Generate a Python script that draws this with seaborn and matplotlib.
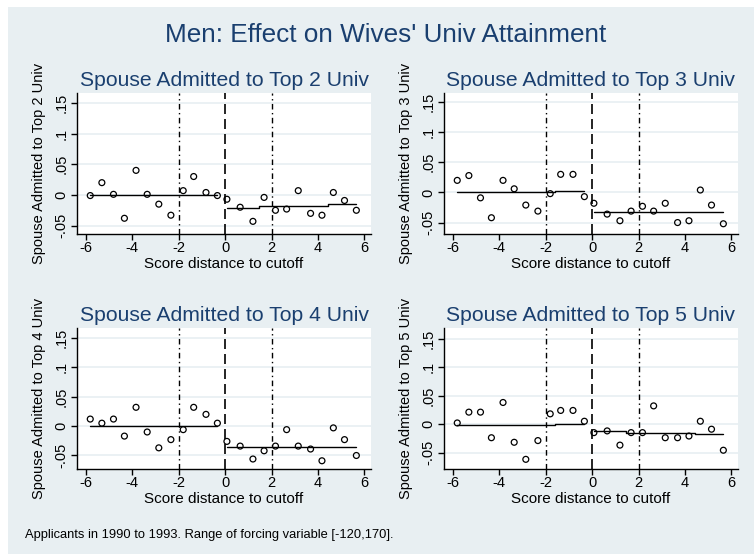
import numpy as np
import pandas as pd
import matplotlib
matplotlib.use("Agg")
import matplotlib.pyplot as plt
from matplotlib.patches import Rectangle
import seaborn as sns

# ---------------- data ----------------
x_left = [-5.8, -5.3, -4.8, -4.33, -3.83, -3.35, -2.85, -2.33, -1.8, -1.35, -0.82, -0.33]
x_right = [0.08, 0.65, 1.2, 1.68, 2.17, 2.65, 3.15, 3.68, 4.17, 4.66, 5.14, 5.65]

panel_titles = ["Spouse Admitted to Top 2 Univ", "Spouse Admitted to Top 3 Univ",
                "Spouse Admitted to Top 4 Univ", "Spouse Admitted to Top 5 Univ"]

top2_left = [-0.001, 0.020, 0.001, -0.038, 0.040, 0.001, -0.015, -0.033, 0.007, 0.030, 0.004, -0.001]
top2_right = [-0.007, -0.020, -0.043, -0.004, -0.025, -0.023, 0.007, -0.030, -0.033, 0.004, -0.009, -0.025]
top2_fit_left = [0.0, 0.0, 0.0, 0.0, 0.0, 0.0, 0.0, 0.0, 0.0, 0.0, 0.0, 0.0]
top2_fit_right = [-0.021, -0.021, -0.021, -0.018, -0.018, -0.018, -0.018, -0.018, -0.018, -0.015, -0.015, -0.015]

top3_left = [0.020, 0.028, -0.009, -0.042, 0.020, 0.006, -0.021, -0.031, -0.002, 0.030, 0.030, -0.007]
top3_right = [-0.018, -0.036, -0.047, -0.031, -0.023, -0.031, -0.018, -0.050, -0.047, 0.004, -0.021, -0.052]
top3_fit_left = [0.0, 0.0, 0.0, 0.0, 0.0, 0.0, 0.0, 0.0, 0.0, 0.003, 0.003, 0.003]
top3_fit_right = [-0.033, -0.033, -0.033, -0.033, -0.033, -0.033, -0.033, -0.033, -0.033, -0.033, -0.033, -0.033]

top4_left = [0.012, 0.005, 0.012, -0.017, 0.032, -0.010, -0.037, -0.023, -0.006, 0.032, 0.020, 0.005]
top4_right = [-0.026, -0.034, -0.056, -0.042, -0.034, -0.006, -0.034, -0.039, -0.059, -0.003, -0.023, -0.050]
top4_fit_left = [0.0, 0.0, 0.0, 0.0, 0.0, 0.0, 0.0, 0.0, 0.0, 0.0, 0.0, 0.0]
top4_fit_right = [-0.036, -0.036, -0.036, -0.036, -0.036, -0.036, -0.036, -0.036, -0.036, -0.036, -0.036, -0.036]

top5_left = [0.002, 0.021, 0.021, -0.024, 0.038, -0.032, -0.062, -0.029, 0.018, 0.024, 0.024, 0.005]
top5_right = [-0.015, -0.012, -0.037, -0.015, -0.015, 0.032, -0.024, -0.024, -0.021, 0.005, -0.009, -0.046]
top5_fit_left = [-0.002, -0.002, -0.002, -0.002, -0.002, -0.002, -0.002, -0.002, -0.002, 0.0005, 0.0005, 0.0005]
top5_fit_right = [-0.013, -0.013, -0.013, -0.015, -0.015, -0.015, -0.015, -0.015, -0.015, -0.018, -0.018, -0.018]

y_ticks = [-0.05, 0, 0.05, 0.1, 0.15]
y_tick_labels = ["-.05", "0", ".05", ".1", ".15"]
x_ticks = [-6, -4, -2, 0, 2, 4, 6]
x_tick_labels = ["-6", "-4", "-2", "0", "2", "4", "6"]

main_title = "Men: Effect on Wives' Univ Attainment"
x_label = "Score distance to cutoff"
footnote = "Applicants in 1990 to 1993. Range of forcing variable [-120,170]."

panels = [
    (top2_left, top2_right, top2_fit_left, top2_fit_right),
    (top3_left, top3_right, top3_fit_left, top3_fit_right),
    (top4_left, top4_right, top4_fit_left, top4_fit_right),
    (top5_left, top5_right, top5_fit_left, top5_fit_right),
]

# ---------------- style ----------------
sns.set_theme(style="white")
plt.rcParams['font.family'] = ['Liberation Sans', 'DejaVu Sans']

BG = "#e8eff2"
NAVY = "#1a3f6f"
W, H = 754, 554
fig = plt.figure(figsize=(W / 100, H / 100), dpi=100, facecolor="white")
fig.patches.append(Rectangle((8 / W, 0), 1 - 8 / W, 1 - 7 / H, transform=fig.transFigure,
                             facecolor=BG, edgecolor="none", zorder=-10))

ylims = [(-0.0636, 0.166), (-0.069, 0.165), (-0.073, 0.167), (-0.079, 0.169)]
pos_px = [(77, 93), (444, 93), (77, 328), (444, 328)]
ax_w, ax_h = 294, 141

for i, (yl, yr, fl, fr) in enumerate(panels):
    lx, ty = pos_px[i]
    ax = fig.add_axes([lx / W, 1 - (ty + ax_h) / H, ax_w / W, ax_h / H])
    ax.set_facecolor("white")
    ax.set_xlim(-6.37, 6.28)
    ax.set_ylim(*ylims[i])

    for t in y_ticks:
        ax.axhline(t, color=BG, lw=1.2, zorder=0)

    df_pts = pd.DataFrame({"x": x_left + x_right, "y": yl + yr})
    sns.scatterplot(data=df_pts, x="x", y="y", ax=ax, marker="o", s=18,
                    facecolor="none", edgecolor="black", linewidth=0.9, zorder=4)
    df_fl = pd.DataFrame({"x": x_left, "y": fl})
    df_fr = pd.DataFrame({"x": x_right, "y": fr})
    sns.lineplot(data=df_fl, x="x", y="y", ax=ax, color="black", lw=1.0,
                 drawstyle="steps-mid", zorder=3)
    sns.lineplot(data=df_fr, x="x", y="y", ax=ax, color="black", lw=1.0,
                 drawstyle="steps-mid", zorder=3)

    ax.axvline(0, color="black", lw=1.2, dashes=(6, 3), zorder=2)
    for xv in (-2, 2):
        ax.axvline(xv, color="black", lw=1.0, dashes=(4, 2.5, 1, 2.5), zorder=2)

    sns.despine(ax=ax)
    for s in ("left", "bottom"):
        ax.spines[s].set_color("black")
        ax.spines[s].set_linewidth(1.0)

    ax.set_xticks(x_ticks)
    ax.set_xticklabels(x_tick_labels)
    ax.set_yticks(y_ticks)
    ax.set_yticklabels(y_tick_labels, rotation=90, va="center")
    ax.tick_params(axis="both", direction="out", length=4, width=1, color="black",
                   labelsize=10.5, labelcolor="black", left=True, bottom=True)
    ax.tick_params(axis="x", pad=1)
    ax.tick_params(axis="y", pad=2)

    ax.set_xlabel(x_label, fontsize=11, color="black", va="top")
    ax.xaxis.set_label_coords(0.5, -0.165)
    ax.set_ylabel(panel_titles[i], fontsize=10.5, color="black", va="center")
    ax.yaxis.set_label_coords(-0.128, 0.5)
    ax.set_title(panel_titles[i], fontsize=15.2, color=NAVY, pad=5)

fig.text(386 / W, 1 - 35 / H, main_title, ha="center", va="center", fontsize=18.8, color=NAVY)
fig.text(25 / W, 1 - 535 / H, footnote, ha="left", va="center", fontsize=9.3, color="black")

fig.savefig("out.png", dpi=100, facecolor=fig.get_facecolor())
